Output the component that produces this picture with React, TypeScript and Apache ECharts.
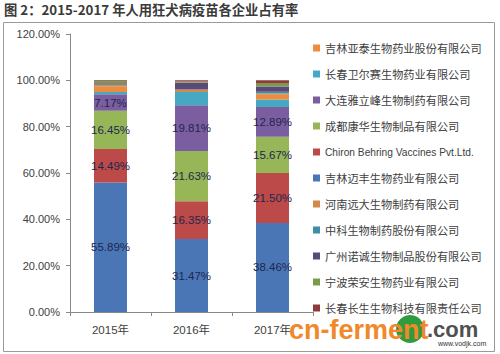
import React, { useEffect, useRef } from "react";
import * as echarts from "echarts";

const categories = ["2015年", "2016年", "2017年"];
const seriesNames = [
  "吉林迈丰生物药业有限公司",
  "Chiron Behring Vaccines Pvt.Ltd.",
  "成都康华生物制品有限公司",
  "大连雅立峰生物制药有限公司",
  "长春卫尔赛生物药业有限公司",
  "吉林亚泰生物药业股份有限公司",
  "河南远大生物制药有限公司",
  "中科生物制药股份有限公司",
  "广州诺诚生物制品股份有限公司",
  "宁波荣安生物药业有限公司",
  "长春长生生物科技有限责任公司",
];
const seriesValues: number[][] = [
  [55.89, 31.47, 38.46],
  [14.49, 16.35, 21.5],
  [16.45, 21.63, 15.67],
  [7.17, 19.81, 12.89],
  [1.0, 5.7, 3.2],
  [2.2, 0.0, 2.1],
  [0.8, 1.1, 0.5],
  [0.3, 0.0, 0.8],
  [0.4, 2.94, 2.2],
  [1.0, 0.5, 1.48],
  [0.3, 0.5, 1.2],
];
const labelled = [true, true, true, true, false, false, false, false, false, false, false];
const colors = [
  "#4a76b6",
  "#bb4a48",
  "#96b657",
  "#7b5ea0",
  "#46a8c3",
  "#ef8b3d",
  "#cf8a4c",
  "#3e8fa3",
  "#5a4a7a",
  "#7d9a4a",
  "#8e3b3d",
];
const legendOrder = [
  "吉林亚泰生物药业股份有限公司",
  "长春卫尔赛生物药业有限公司",
  "大连雅立峰生物制药有限公司",
  "成都康华生物制品有限公司",
  "Chiron Behring Vaccines Pvt.Ltd.",
  "吉林迈丰生物药业有限公司",
  "河南远大生物制药有限公司",
  "中科生物制药股份有限公司",
  "广州诺诚生物制品股份有限公司",
  "宁波荣安生物药业有限公司",
  "长春长生生物科技有限责任公司",
];
const yTicks = { min: 0, max: 120, interval: 20 };
const titleText = "图 2：2015-2017 年人用狂犬病疫苗各企业占有率";

export default function App() {
  const ref = useRef<HTMLDivElement>(null);
  useEffect(() => {
    if (!ref.current) return;
    const chart = echarts.init(ref.current, undefined, { renderer: "svg" });
    const font = "'Liberation Sans', 'Noto Sans CJK SC', sans-serif";
    chart.setOption({
      animation: false,
      backgroundColor: "#ffffff",
      textStyle: { fontFamily: font },
      grid: { left: 70, right: 187, top: 34, bottom: 42 },
      legend: {
        orient: "vertical",
        left: 308,
        top: 36,
        itemWidth: 7,
        itemHeight: 7,
        itemGap: 12,
        icon: "rect",
        data: legendOrder,
        formatter: (name: string) => (/^[A-Za-z]/.test(name) ? "{a|" + name + "}" : name),
        textStyle: {
          fontSize: 11.2,
          lineHeight: 14,
          color: "#404040",
          fontFamily: "'Noto Sans CJK SC', 'Liberation Sans', sans-serif",
          rich: {
            a: {
              fontSize: 10.2,
              lineHeight: 14,
              color: "#404040",
              fontFamily: "'Liberation Sans', sans-serif",
            },
          },
        },
      },
      xAxis: {
        type: "category",
        data: categories,
        axisLine: { lineStyle: { color: "#888888" } },
        axisTick: { show: true, length: 4, lineStyle: { color: "#888888" } },
        axisLabel: {
          color: "#404040",
          fontSize: 11.5,
          margin: 12,
          fontFamily: "'Liberation Sans', 'Noto Sans CJK SC', sans-serif",
        },
      },
      yAxis: {
        type: "value",
        min: yTicks.min,
        max: yTicks.max,
        interval: yTicks.interval,
        axisLine: { show: true, lineStyle: { color: "#888888" } },
        axisTick: { show: true, length: 4, lineStyle: { color: "#888888" } },
        splitLine: { show: false },
        axisLabel: {
          color: "#404040",
          fontSize: 11,
          margin: 10,
          formatter: (v: number) => v.toFixed(2) + "%",
        },
      },
      series: seriesNames.map((name, i) => ({
        name,
        type: "bar",
        stack: "total",
        barWidth: 33,
        itemStyle: { color: colors[i] },
        label: {
          show: labelled[i],
          position: "inside",
          color: "#1f2650",
          fontSize: 11.5,
          formatter: (p: any) => p.value.toFixed(2) + "%",
        },
        data: seriesValues[i],
      })),
      graphic: [
        {
          type: "rect",
          shape: { x: 3.5, y: 22.5, width: 491, height: 329 },
          style: { fill: "none", stroke: "#9a9a9a", lineWidth: 1 },
          z: -1,
        },
        {
          type: "text",
          x: 4,
          y: 3,
          style: {
            text: titleText,
            fill: "#3a3a3a",
            font: "bold 13.3px 'Noto Sans CJK SC', sans-serif",
          },
        },
        {
          type: "circle",
          shape: { cx: 410, cy: 329, r: 14 },
          style: { fill: "#2f9a3e" },
          z: 99,
        },
        {
          type: "text",
          x: 289,
          y: 316,
          z: 100,
          style: {
            text: "cn-ferment",
            fill: "#f0892a",
            font: "bold 27px 'Liberation Sans', sans-serif",
          },
        },
        {
          type: "text",
          x: 427,
          y: 318,
          z: 100,
          style: {
            text: ".com",
            fill: "#505050",
            font: "bold 22px 'Liberation Sans', sans-serif",
          },
        },
        {
          type: "text",
          x: 438,
          y: 340,
          z: 100,
          style: {
            text: "www.vodjk.com",
            fill: "#333333",
            font: "7px 'Liberation Sans', sans-serif",
          },
        },
      ],
    });
    return () => chart.dispose();
  }, []);
  return (
    <div
      ref={ref}
      style={{ position: "fixed", left: 0, top: 0, width: 500, height: 354, background: "#fff" }}
    />
  );
}
